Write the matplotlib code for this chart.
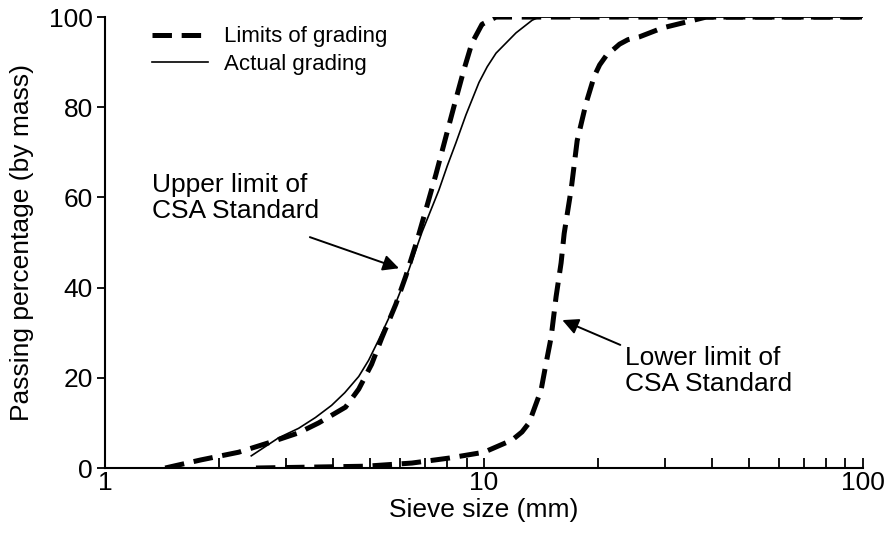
import matplotlib
matplotlib.use("Agg")
import matplotlib.pyplot as plt
from matplotlib.ticker import LogLocator, NullFormatter, FixedLocator, FixedFormatter

plt.rcParams['font.family'] = ['Liberation Sans', 'DejaVu Sans']
plt.rcParams['lines.scale_dashes'] = False

# Upper limit of CSA standard (sieve size mm, passing %)
upper_x = [1.44, 1.79, 2.25, 2.75, 3.24, 3.66, 4.31, 4.67, 5.05, 5.37, 5.85, 6.22,
           6.65, 7.02, 7.46, 7.93, 8.43, 8.85, 9.29, 9.88, 10.76, 100]
upper_y = [0, 1.8, 3.5, 5.8, 7.8, 10.0, 13.5, 17.5, 23.0, 28.8, 36.3, 42.6,
           50.3, 57.2, 65.0, 73.4, 81.8, 88.3, 94.2, 98.4, 100, 100]

# Lower limit of CSA standard
lower_x = [2.5, 4.87, 6.45, 8.08, 10.0, 11.86, 12.6, 13.15, 14.15, 14.59, 15.04, 15.5, 15.98,
           16.28, 17.0, 17.62, 18.6, 19.55, 20.2, 21.0, 22.8, 24.0, 25.7, 29.6, 34.2, 38.6, 100]
lower_y = [0, 0.4, 1.1, 2.2, 3.5, 6.2, 8.0, 10.0, 17.3, 23.3, 29.0, 38.0, 45.5,
           52.0, 62.0, 72.6, 80.9, 86.9, 89.4, 91.4, 94.0, 95.0, 95.6, 97.6, 98.9, 100, 100]

# Actual grading
actual_x = [2.43, 2.87, 3.24, 3.59, 3.96, 4.29, 4.67, 4.96, 5.27, 5.85, 6.33, 6.86, 7.60,
            8.0, 8.43, 8.96, 9.70, 10.2, 10.76, 12.15, 13.40, 13.98, 100]
actual_y = [2.7, 6.7, 8.8, 11.2, 13.9, 16.7, 20.3, 23.9, 28.4, 36.6, 43.9, 52.3, 61.6,
            67.0, 72.1, 78.3, 85.5, 89.0, 92.0, 96.5, 99.3, 100, 100]

x_ticks = [1, 10, 100]
x_tick_labels = ['1', '10', '100']
y_ticks = [0, 20, 40, 60, 80, 100]

fig = plt.figure(figsize=(8.84, 5.42), dpi=100)
ax = fig.add_axes([0.119, 0.1365, 0.857, 0.832])

dash = (14, 7)
l1, = ax.plot(upper_x, upper_y, color='black', lw=3.6, dashes=dash, label='Limits of grading')
ax.plot(lower_x, lower_y, color='black', lw=3.6, dashes=dash)
l2, = ax.plot(actual_x, actual_y, color='black', lw=1.2, label='Actual grading')

ax.set_xscale('log')
ax.set_xlim(1, 100)
ax.set_ylim(0, 100)

ax.xaxis.set_major_locator(FixedLocator(x_ticks))
ax.xaxis.set_major_formatter(FixedFormatter(x_tick_labels))
ax.xaxis.set_minor_locator(LogLocator(base=10, subs=range(2, 10)))
ax.xaxis.set_minor_formatter(NullFormatter())
ax.set_yticks(y_ticks)

for s in ['top', 'right']:
    ax.spines[s].set_visible(False)
for s in ['left', 'bottom']:
    ax.spines[s].set_linewidth(1.5)

ax.tick_params(axis='x', which='both', direction='in', length=7, width=1.3, labelsize=19, pad=2)
ax.tick_params(axis='y', which='major', direction='out', length=6, width=1.3, labelsize=19, pad=3)

ax.set_xlabel('Sieve size (mm)', fontsize=19, labelpad=2)
ax.set_ylabel('Passing percentage (by mass)', fontsize=19, labelpad=11)

leg = ax.legend(handles=[l1, l2], loc='upper left', bbox_to_anchor=(0.05, 0.999),
                frameon=False, fontsize=16, handlelength=2.5, handletextpad=0.75,
                labelspacing=0.3, borderaxespad=0)

ax.text(1.33, 59.8, 'Upper limit of\nCSA Standard', fontsize=19, ha='left', va='center',
        linespacing=1.1)
ax.annotate('', xy=(5.965, 44.3), xytext=(3.47, 51.2),
            arrowprops=dict(arrowstyle='-|>', color='black', lw=1.4,
                            mutation_scale=24, shrinkA=0, shrinkB=0))
ax.text(23.6, 21.5, 'Lower limit of\nCSA Standard', fontsize=19, ha='left', va='center',
        linespacing=1.1)
ax.annotate('', xy=(16.1, 32.8), xytext=(22.9, 27.3),
            arrowprops=dict(arrowstyle='-|>', color='black', lw=1.4,
                            mutation_scale=24, shrinkA=0, shrinkB=0))

fig.savefig('out.png', dpi=100)
